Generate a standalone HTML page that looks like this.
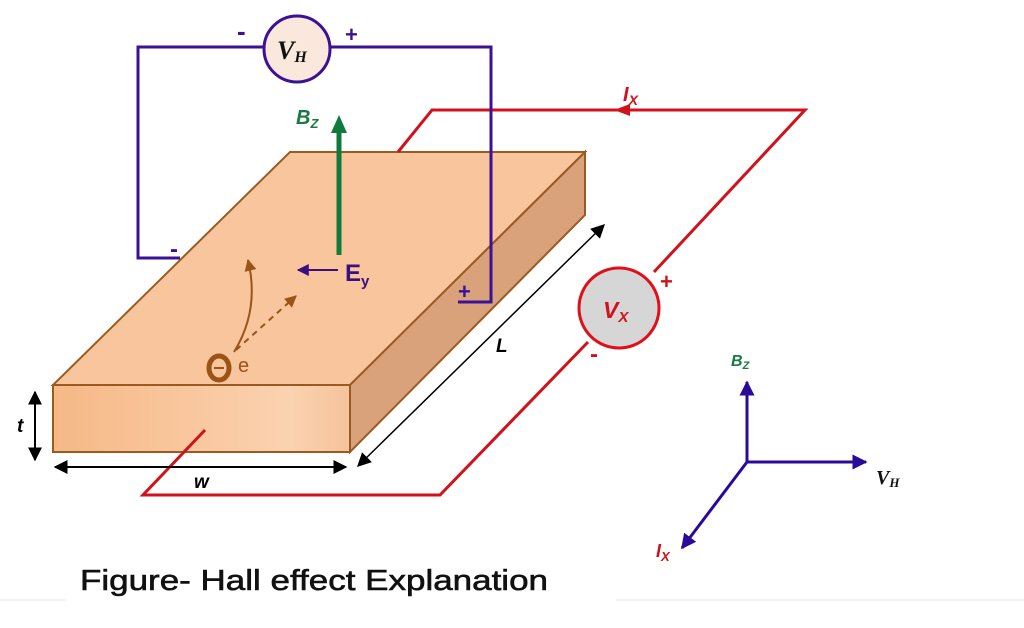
<!DOCTYPE html>
<html><head><meta charset="utf-8"><style>html,body{margin:0;padding:0;background:#fff}svg{display:block}</style></head>
<body>
<svg width="1024" height="628" viewBox="0 0 1024 628" xmlns="http://www.w3.org/2000/svg" font-family="Liberation Sans, sans-serif">
<defs>
<linearGradient id="fr" x1="0" x2="1" y1="0" y2="0"><stop offset="0" stop-color="#f6b886"/><stop offset="0.8" stop-color="#fbd2b0"/><stop offset="1" stop-color="#f5c39b"/></linearGradient>
<marker id="ab" viewBox="0 0 10 10" refX="9" refY="5" markerWidth="7" markerHeight="7" markerUnits="userSpaceOnUse" orient="auto-start-reverse"><path d="M0,0L10,5L0,10z" fill="#000"/></marker>
<marker id="ab2" viewBox="0 0 10 10" refX="9" refY="5" markerWidth="14" markerHeight="14" markerUnits="userSpaceOnUse" orient="auto-start-reverse"><path d="M0,0L10,5L0,10z" fill="#000"/></marker>
<marker id="ap" viewBox="0 0 10 10" refX="9" refY="5" markerWidth="5" markerHeight="5" orient="auto"><path d="M0,0L10,5L0,10z" fill="#2a0a9a"/></marker>
<marker id="ae" viewBox="0 0 10 10" refX="9" refY="5" markerWidth="6" markerHeight="6" orient="auto"><path d="M0,0L10,5L0,10z" fill="#3a1080"/></marker>
<marker id="ao" viewBox="0 0 10 10" refX="9" refY="5" markerWidth="6" markerHeight="6" orient="auto"><path d="M0,0L10,5L0,10z" fill="#9a5418"/></marker>
</defs>
<polygon points="53,385 290,152 585,152 350,385" fill="#f8c59c" stroke="#9a5b22" stroke-width="2"/>
<polygon points="350,385 585,152 585,215 350,452" fill="#d9a27a" stroke="#9a5b22" stroke-width="2"/>
<rect x="53" y="385" width="297" height="67" fill="url(#fr)" stroke="#9a5b22" stroke-width="2"/>
<g stroke="#d0121c" stroke-width="3" fill="none">
<polyline points="398,152 432,110 805,110 654,272"/>
<polyline points="588,342 440,495 143,495 205,430"/>
</g>
<path d="M614,110 L630,104 L630,116z" fill="#d0121c"/>
<circle cx="619" cy="308" r="40" fill="#d6d6d6" stroke="#e0101a" stroke-width="3"/>
<text x="603" y="318" font-size="23" font-weight="bold" font-style="italic" fill="#d0121c">V<tspan font-size="15" dy="4">X</tspan></text>
<text x="660" y="289" font-size="22" font-weight="bold" fill="#d0121c">+</text>
<text x="590" y="362" font-size="24" font-weight="bold" fill="#d0121c">-</text>
<text x="623" y="101" font-size="20" font-weight="bold" font-style="italic" fill="#d0121c">I<tspan font-size="14" dy="4">X</tspan></text>
<g stroke="#3b1196" stroke-width="3" fill="none">
<polyline points="180,258 138,258 138,47 264,47"/>
<polyline points="330,47 491,47 491,302 458,302"/>
</g>
<circle cx="297" cy="49" r="33" fill="#fbe8dc" stroke="#3b1196" stroke-width="3"/>
<text x="277" y="59" font-size="26" font-weight="bold" font-style="italic" font-family="Liberation Serif, serif" fill="#111">V<tspan font-size="16" dy="3">H</tspan></text>
<text x="237" y="40" font-size="26" font-weight="bold" fill="#3b1196">-</text>
<text x="345" y="42" font-size="22" font-weight="bold" fill="#3b1196">+</text>
<text x="170" y="257" font-size="24" font-weight="bold" fill="#3b1196">-</text>
<text x="458" y="299" font-size="22" font-weight="bold" fill="#3b1196">+</text>
<line x1="339" y1="255" x2="339" y2="130" stroke="#0f7a3c" stroke-width="5"/>
<path d="M339,115 L331,133 L347,133z" fill="#0f7a3c"/>
<text x="296" y="124" font-size="20" font-weight="bold" font-style="italic" fill="#1a7a40">B<tspan font-size="13" dy="4">Z</tspan></text>
<line x1="338" y1="270" x2="298" y2="270" stroke="#3a1080" stroke-width="2" marker-end="url(#ae)"/>
<text x="345" y="281" font-size="24" font-weight="bold" fill="#3a1080">E<tspan font-size="15" dy="5">y</tspan></text>
<path d="M234,352 Q260,310 248,260" stroke="#9a5418" stroke-width="2" fill="none" marker-end="url(#ao)"/>
<line x1="236" y1="350" x2="296" y2="296" stroke="#9a5418" stroke-width="2" stroke-dasharray="6,5" marker-end="url(#ao)"/>
<ellipse cx="219" cy="368" rx="10" ry="12" fill="none" stroke="#9a5418" stroke-width="5"/>
<line x1="214" y1="368" x2="224" y2="368" stroke="#9a5418" stroke-width="2"/>
<text x="238" y="372" font-size="20" fill="#9a5418">e</text>
<line x1="35" y1="392" x2="35" y2="460" stroke="#000" stroke-width="2" marker-start="url(#ab2)" marker-end="url(#ab2)"/>
<text x="17" y="432" font-size="19" font-weight="bold" font-style="italic">t</text>
<line x1="55" y1="467" x2="346" y2="467" stroke="#000" stroke-width="2" marker-start="url(#ab2)" marker-end="url(#ab2)"/>
<text x="194" y="488" font-size="19" font-weight="bold" font-style="italic">w</text>
<line x1="358" y1="466" x2="604" y2="225" stroke="#000" stroke-width="1.5" marker-start="url(#ab2)" marker-end="url(#ab2)"/>
<text x="496" y="352" font-size="19" font-weight="bold" font-style="italic">L</text>
<g stroke="#2a0a9a" stroke-width="3">
<line x1="747" y1="462" x2="747" y2="382" marker-end="url(#ap)"/>
<line x1="747" y1="462" x2="866" y2="462" marker-end="url(#ap)"/>
<line x1="747" y1="462" x2="682" y2="548" marker-end="url(#ap)"/>
</g>
<text x="731" y="366" font-size="16" font-weight="bold" font-style="italic" fill="#1a7a40">B<tspan font-size="11" dy="3">Z</tspan></text>
<text x="876" y="484" font-size="20" font-weight="bold" font-style="italic" font-family="Liberation Serif, serif" fill="#111">V<tspan font-size="13" dy="3">H</tspan></text>
<text x="656" y="557" font-size="18" font-weight="bold" font-style="italic" fill="#d0121c">I<tspan font-size="13" dy="4">X</tspan></text>
<line x1="0" y1="600" x2="1024" y2="600" stroke="#eee" stroke-width="1.5"/>
<rect x="66" y="560" width="550" height="42" fill="#fff"/>
<text x="80" y="590" font-size="29" textLength="468" lengthAdjust="spacingAndGlyphs" fill="#111" stroke="#111" stroke-width="0.6">Figure- Hall effect Explanation</text>
</svg>
</body></html>
